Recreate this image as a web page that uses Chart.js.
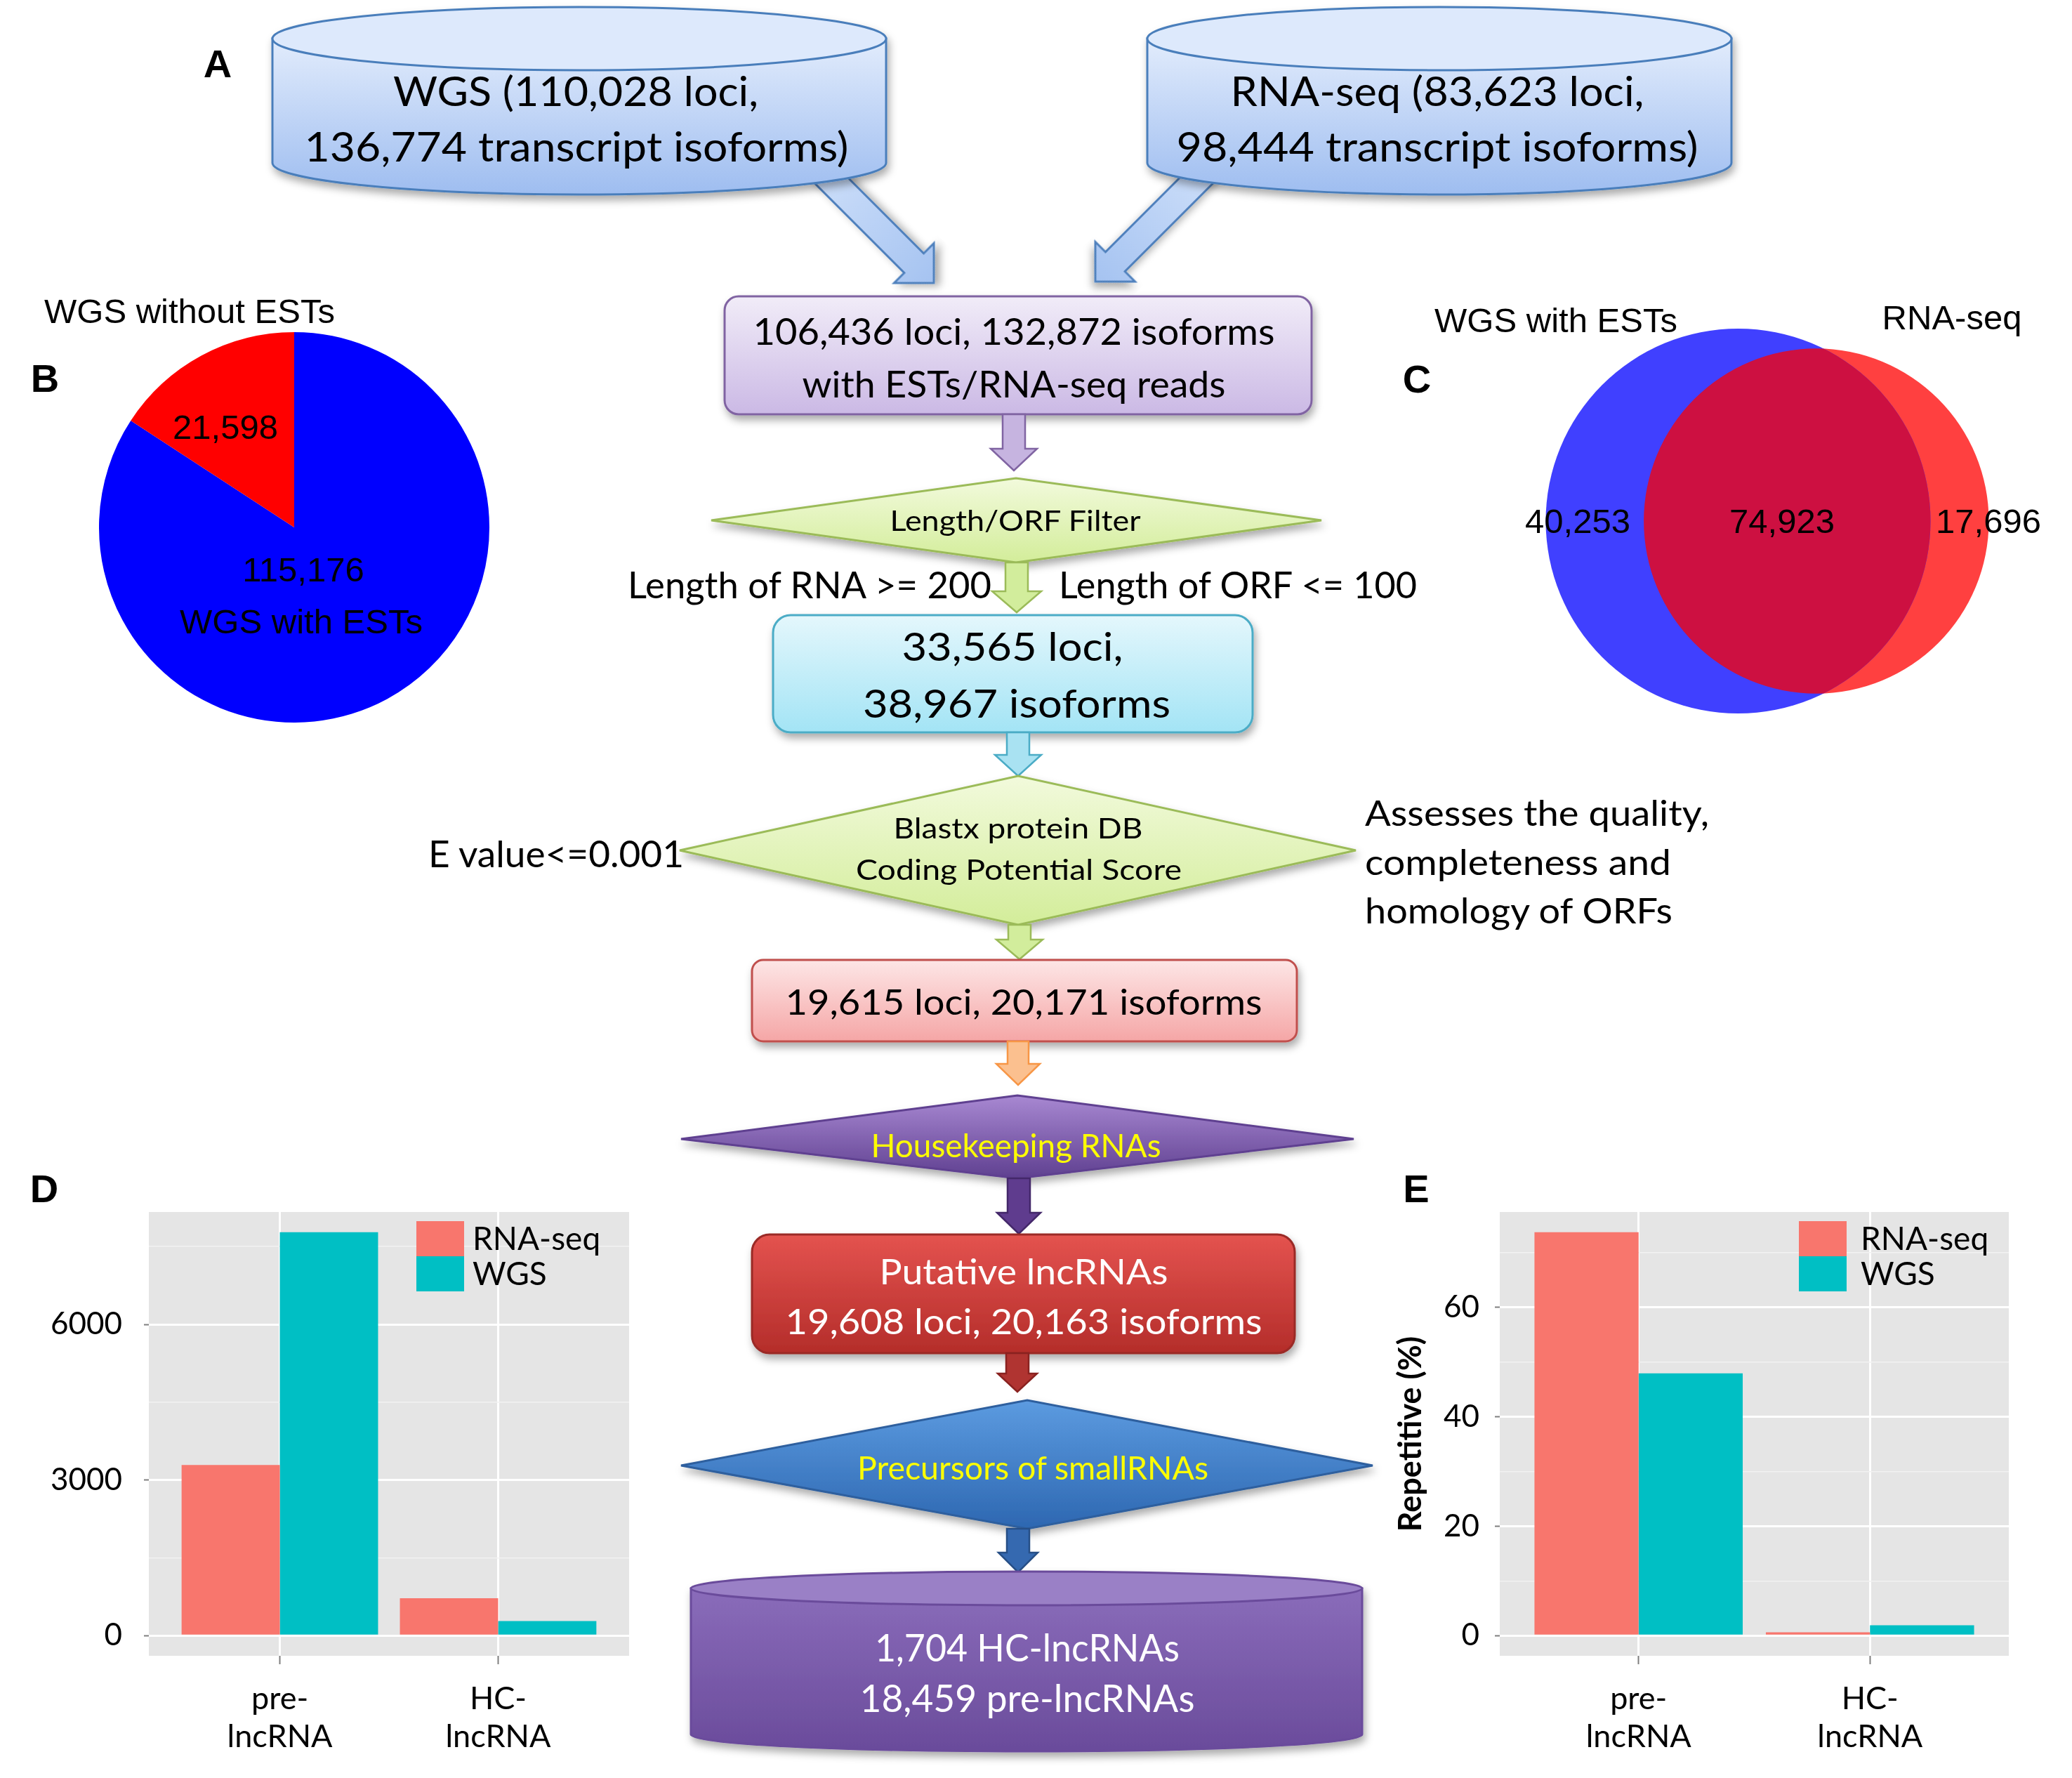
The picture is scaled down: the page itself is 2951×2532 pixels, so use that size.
<!DOCTYPE html>
<html>
<head>
<meta charset="utf-8">
<script src="https://cdn.jsdelivr.net/npm/chart.js@4.4.1/dist/chart.umd.min.js"></script>
<style>
  html, body { margin: 0; padding: 0; background: #fff; overflow: hidden; }
  #fig { position: relative; width: 2951px; height: 2532px; background: #fff; }
  #fig canvas { position: absolute; }
  #flow { position: absolute; left: 0; top: 0; z-index: 2; pointer-events: none; }
</style>
</head>
<body>
<div id="fig">
  <canvas id="pie" width="556" height="556" style="left:141px;top:473px;width:556px;height:556px"></canvas>
  <canvas id="venn" width="951" height="640" style="left:2000px;top:420px;width:951px;height:640px"></canvas>
  <canvas id="barD" width="950" height="832" style="left:0px;top:1700px;width:950px;height:832px"></canvas>
  <canvas id="barE" width="1001" height="832" style="left:1950px;top:1700px;width:1001px;height:832px"></canvas>
  <svg id="flow" width="2951" height="2532" xmlns="http://www.w3.org/2000/svg"></svg>
</div>
<script>
// ---- data ----
const pieLabels = ['WGS with ESTs', 'WGS without ESTs'];
const pieValues = [115176, 21598];
const pieColors = ['#0000ff', '#ff0000'];

const vennSets = ['WGS with ESTs', 'RNA-seq'];
const vennCounts = [40253, 74923, 17696];   // only WGS, both, only RNA-seq
const vennColors = ['#4040ff', '#ff4040', '#cd1041'];

const barCategories = [['pre-', 'lncRNA'], ['HC-', 'lncRNA']];
const seriesNames = ['RNA-seq', 'WGS'];
const barColors = ['#f8766d', '#00bfc4'];
const countRnaSeq = [3290, 720];
const countWgs = [7777, 281];
const countTicks = [0, 3000, 6000];
const repRnaSeq = [73.7, 0.6];
const repWgs = [47.9, 1.9];
const repTicks = [0, 20, 40, 60];

const fmt = n => n.toLocaleString('en-US');
const common = { responsive: false, animation: false, devicePixelRatio: 1, events: [] };

// ---- B: pie ----
new Chart(document.getElementById('pie'), {
  type: 'pie',
  data: { labels: pieLabels, datasets: [{ data: pieValues, backgroundColor: pieColors, borderWidth: 0 }] },
  options: { ...common, layout: { padding: 0 },
    plugins: { legend: { display: false }, tooltip: { enabled: false } } }
});

// ---- C: area proportional venn ----
const VENN_PX_PER_ROOT = 0.8074;
const sizeA = vennCounts[0] + vennCounts[1];
const sizeB = vennCounts[1] + vennCounts[2];
const r1 = VENN_PX_PER_ROOT * Math.sqrt(sizeA);
const r2 = VENN_PX_PER_ROOT * Math.sqrt(sizeB);
function lens(d, a, b) {
  if (d >= a + b) return 0;
  if (d <= Math.abs(a - b)) return Math.PI * Math.min(a, b) ** 2;
  const p = a * a * Math.acos((d * d + a * a - b * b) / (2 * d * a));
  const q = b * b * Math.acos((d * d + b * b - a * a) / (2 * d * b));
  const s = 0.5 * Math.sqrt((-d + a + b) * (d + a - b) * (d - a + b) * (d + a + b));
  return p + q - s;
}
const targetOverlap = Math.PI * VENN_PX_PER_ROOT ** 2 * vennCounts[1];
let dLo = Math.abs(r1 - r2), dHi = r1 + r2;
for (let i = 0; i < 80; i++) {
  const m = (dLo + dHi) / 2;
  if (lens(m, r1, r2) > targetOverlap) dLo = m; else dHi = m;
}
const dist = (dLo + dHi) / 2;
const vennMid = (dist + r2 - r1) / 2;

const vennOverlap = {
  id: 'vennOverlap',
  afterDatasetsDraw(chart) {
    const a = chart.getDatasetMeta(0).data[0];
    const b = chart.getDatasetMeta(1).data[0];
    const ctx = chart.ctx;
    ctx.save();
    ctx.beginPath(); ctx.arc(a.x, a.y, a.options.radius, 0, Math.PI * 2); ctx.clip();
    ctx.beginPath(); ctx.arc(b.x, b.y, b.options.radius, 0, Math.PI * 2);
    ctx.fillStyle = vennColors[2]; ctx.fill();
    ctx.restore();
  }
};
new Chart(document.getElementById('venn'), {
  type: 'bubble',
  data: { datasets: [
    { label: vennSets[0], data: [{ x: 0, y: 0, r: r1 }], backgroundColor: vennColors[0], borderWidth: 0, clip: false },
    { label: vennSets[1], data: [{ x: dist, y: 0, r: r2 }], backgroundColor: vennColors[1], borderWidth: 0, clip: false }
  ] },
  options: { ...common, layout: { padding: 0, autoPadding: false },
    plugins: { legend: { display: false }, tooltip: { enabled: false } },
    scales: {
      x: { display: false, min: vennMid - 517, max: vennMid + 434 },
      y: { display: false, min: -318, max: 322 }
    } },
  plugins: [vennOverlap]
});

// ---- D / E: ggplot style dodged bars ----
const panelBg = {
  id: 'panelBg',
  beforeDraw(chart) {
    const { ctx, chartArea: a } = chart;
    ctx.save();
    ctx.fillStyle = '#e5e5e5';
    ctx.fillRect(a.left, a.top, a.right - a.left, a.bottom - a.top);
    ctx.restore();
  }
};

function makeBars(id, valsA, valsB, majors, cfg) {
  const all = valsA.concat(valsB);
  const hi = Math.max(...all), lo = Math.min(0, ...all);
  const pad = (hi - lo) * 0.05;
  const step = majors[1] - majors[0];
  const tickVals = [];
  majors.forEach(m => { tickVals.push(m); if (m + step / 2 <= hi + pad) tickVals.push(m + step / 2); });
  const isMajor = v => majors.includes(v);
  const pts = vals => vals.map((v, i) => ({ x: i + 1, y: v }));
  new Chart(document.getElementById(id), {
    type: 'bar',
    data: { datasets: [
      { label: seriesNames[0], data: pts(valsA), backgroundColor: barColors[0] },
      { label: seriesNames[1], data: pts(valsB), backgroundColor: barColors[1] }
    ] },
    options: { ...common,
      datasets: { bar: { categoryPercentage: 0.9, barPercentage: 1 } },
      layout: { padding: { top: 26, right: cfg.right, left: 0, bottom: 0 } },
      plugins: { legend: { display: false }, tooltip: { enabled: false } },
      scales: {
        x: {
          type: 'linear', min: 0.4, max: barCategories.length + 0.6, offset: false,
          afterBuildTicks: s => { s.ticks = barCategories.map((c, i) => ({ value: i + 1 })); },
          afterFit: s => { s.height = 174; s.paddingLeft = 0; s.paddingRight = 0; },
          ticks: { autoSkip: false, maxRotation: 0, padding: 22, color: '#000',
                   font: { family: 'Lato', size: 45 }, callback: v => barCategories[v - 1] },
          grid: { offset: false, color: '#ffffff', lineWidth: 3, tickColor: '#7f7f7f', tickWidth: 2, tickLength: 12 },
          border: { display: false }
        },
        y: {
          min: lo - pad, max: hi + pad,
          afterBuildTicks: s => { s.ticks = tickVals.map(v => ({ value: v })); },
          afterFit: s => { s.width = cfg.axisWidth; s.paddingTop = 0; s.paddingBottom = 0; },
          ticks: { padding: cfg.labelPad, color: '#000', font: { family: 'Lato', size: 44 },
                   callback: v => isMajor(v) ? String(v) : '' },
          grid: {
            color: c => isMajor(c.tick.value) ? '#ffffff' : '#f2f2f2',
            lineWidth: c => isMajor(c.tick.value) ? 3 : 1.5,
            tickColor: c => isMajor(c.tick.value) ? '#7f7f7f' : 'rgba(0,0,0,0)',
            tickWidth: 2, tickLength: 7
          },
          border: { display: false },
          title: cfg.title
            ? { display: true, text: cfg.title, color: '#000', padding: { top: 32, bottom: 0 },
                font: { family: 'Lato', size: 45, weight: 'bold' } }
            : { display: false }
        }
      } },
    plugins: [panelBg]
  });
}
makeBars('barD', countRnaSeq, countWgs, countTicks, { right: 54, axisWidth: 212, labelPad: 31 });
makeBars('barE', repRnaSeq, repWgs, repTicks, { right: 90, axisWidth: 186, labelPad: 22, title: 'Repetitive (%)' });

// ---- flowchart and labels (svg) ----
const defs = [], parts = [];
function grad(id, c1, c2) {
  defs.push(`<linearGradient id="${id}" x1="0" y1="0" x2="0" y2="1"><stop offset="0" stop-color="${c1}"/><stop offset="1" stop-color="${c2}"/></linearGradient>`);
  return `url(#${id})`;
}
function esc(s) { return s.replace(/&/g, '&amp;').replace(/</g, '&lt;').replace(/>/g, '&gt;'); }
function txt(x, cy, s, size, len, o = {}) {
  const fam = o.family || 'Lato';
  const cap = o.cap || 0.36;
  const anchor = o.anchor || 'middle';
  const lenAttr = len ? ` textLength="${len}" lengthAdjust="spacingAndGlyphs"` : '';
  parts.push(`<text x="${x}" y="${(cy + cap * size).toFixed(1)}" font-family="${fam}" font-size="${size}" font-weight="${o.weight || 'normal'}" fill="${o.fill || '#000'}" text-anchor="${anchor}"${lenAttr}>${esc(s)}</text>`);
}
function cylinder(x0, x1, cyT, cyB, ry, body, top, stroke) {
  const rx = (x1 - x0) / 2, cx = (x0 + x1) / 2;
  parts.push(`<g filter="url(#sh)"><path d="M${x0},${cyT} L${x0},${cyB} A${rx},${ry} 0 0 0 ${x1},${cyB} L${x1},${cyT} Z" fill="${body}" stroke="${stroke}" stroke-width="3"/>` +
    `<ellipse cx="${cx}" cy="${cyT}" rx="${rx}" ry="${ry}" fill="${top}" stroke="${stroke}" stroke-width="3"/></g>`);
}
function box(x0, y0, x1, y1, r, fill, stroke) {
  parts.push(`<rect x="${x0}" y="${y0}" width="${x1 - x0}" height="${y1 - y0}" rx="${r}" fill="${fill}" stroke="${stroke}" stroke-width="3" filter="url(#sh)"/>`);
}
function diamond(x0, x1, yT, yM, yB, cx, fill, stroke) {
  parts.push(`<polygon points="${x0},${yM} ${cx},${yT} ${x1},${yM} ${cx},${yB}" fill="${fill}" stroke="${stroke}" stroke-width="3" filter="url(#sh)"/>`);
}
function downArrow(cx, y0, y1, sw, hw, hl, fill, stroke) {
  const yh = y1 - hl;
  parts.push(`<polygon points="${cx - sw / 2},${y0} ${cx + sw / 2},${y0} ${cx + sw / 2},${yh} ${cx + hw / 2},${yh} ${cx},${y1} ${cx - hw / 2},${yh} ${cx - sw / 2},${yh}" fill="${fill}" stroke="${stroke}" stroke-width="2.5"/>`);
}
// 45 degree block arrow, head wings end up vertical / horizontal
function diagArrow(tx, ty, rot, L, fill, stroke) {
  const sw = 39, hw = 80, hl = 40;
  parts.push(`<polygon filter="url(#sh)" transform="translate(${tx},${ty}) rotate(${rot})" points="${-sw / 2},${-L} ${sw / 2},${-L} ${sw / 2},${-hl} ${hw / 2},${-hl} 0,0 ${-hw / 2},${-hl} ${-sw / 2},${-hl}" fill="${fill}" stroke="${stroke}" stroke-width="3"/>`);
}

defs.push('<filter id="sh" x="-10%" y="-10%" width="125%" height="140%"><feDropShadow dx="3" dy="7" stdDeviation="6" flood-color="#000" flood-opacity="0.33"/></filter>');

const gCyl = grad('gCyl', '#e2ecfc', '#9ebdf0');
const gArr = grad('gArr', '#cfe0fa', '#a5c3f1');
diagArrow(1330, 403, -45, 240, gArr, '#4f81bd');
diagArrow(1560, 401, 45, 240, gArr, '#4f81bd');
cylinder(388, 1262, 55, 232, 45, gCyl, '#dde9fc', '#4a7ebb');
cylinder(1634, 2466, 55, 232, 45, gCyl, '#dde9fc', '#4a7ebb');
txt(820, 130, 'WGS (110,028 loci,', 58, 520);
txt(821, 209, '136,774 transcript isoforms)', 58, 775);
txt(2047, 130, 'RNA-seq (83,623 loci,', 58, 589);
txt(2047, 209, '98,444 transcript isoforms)', 58, 743);

box(1032, 422, 1868, 590, 20, grad('gPur', '#f1ecf8', '#cbb9e5'), '#8064a2');
txt(1444, 472, '106,436 loci, 132,872 isoforms', 52, 743);
txt(1444, 547, 'with ESTs/RNA-seq reads', 52, 603);
downArrow(1444, 590, 670, 32, 66, 31, '#c6b4e0', '#8064a2');

const gLime = grad('gLime', '#f2fadc', '#d3ed9a');
diamond(1013, 1882, 681, 741, 801, 1447, gLime, '#9bbb59');
txt(1446, 742, 'Length/ORF Filter', 40, 357);
downArrow(1448, 801, 872, 32, 70, 30, '#d2ed9c', '#9bbb59');
txt(1153, 833, 'Length of RNA >= 200', 52, 518);
txt(1763, 833, 'Length of ORF <= 100', 52, 510);

box(1101, 876, 1784, 1043, 25, grad('gCyan', '#e4f7fc', '#a3e4f5'), '#4bacc6');
txt(1442, 921, '33,565 loci,', 56, 315);
txt(1448, 1002, '38,967 isoforms', 56, 438);
downArrow(1450, 1043, 1105, 32, 66, 30, '#a9e2f2', '#4bacc6');

diamond(968, 1931, 1105, 1211, 1317, 1450, gLime, '#9bbb59');
txt(1450, 1180, 'Blastx protein DB', 40, 355);
txt(1451, 1239, 'Coding Potential Score', 40, 464);
txt(792, 1216, 'E value<=0.001', 52, 364);
txt(1944, 1158, 'Assesses the quality,', 50, 490, { anchor: 'start' });
txt(1944, 1228, 'completeness and', 50, 436, { anchor: 'start' });
txt(1944, 1297, 'homology of ORFs', 50, 438, { anchor: 'start' });
downArrow(1452, 1317, 1366, 32, 66, 28, '#d2ed9c', '#9bbb59');

box(1071, 1367, 1847, 1483, 16, grad('gPink', '#fde6e6', '#f5a6a6'), '#c0504d');
txt(1458, 1427, '19,615 loci, 20,171 isoforms', 50, 679);
downArrow(1450, 1483, 1545, 30, 62, 30, '#fbc08f', '#f79646');

diamond(970, 1928, 1560, 1622, 1678, 1449, grad('gHk', '#a888d2', '#5f4090'), '#5f4090');
txt(1447, 1631, 'Housekeeping RNAs', 46, 413, { fill: '#ffff00' });
downArrow(1451, 1678, 1757, 32, 62, 30, '#5f3c8e', '#44286a');

box(1071, 1758, 1844, 1927, 25, grad('gRed', '#e4534f', '#b42d2a'), '#9a2926');
txt(1458, 1811, 'Putative lncRNAs', 50, 411, { fill: '#ffffff' });
txt(1458, 1882, '19,608 loci, 20,163 isoforms', 50, 679, { fill: '#ffffff' });
downArrow(1449, 1927, 1982, 32, 56, 26, '#b03431', '#8a2220');

diamond(970, 1955, 1994, 2087, 2177, 1463, grad('gBlue', '#5c9be0', '#2d67b1'), '#2d5f9e');
txt(1471, 2090, 'Precursors of smallRNAs', 46, 500, { fill: '#ffff00' });
downArrow(1450, 2177, 2239, 32, 56, 28, '#3569b0', '#274f86');

cylinder(984, 1940, 2262, 2470, 24, grad('gCyl2', '#8a6cba', '#6a4b9b'), '#9a80c6', '#6a4b9b');
txt(1463, 2347, '1,704 HC-lncRNAs', 54, 434, { fill: '#ffffff' });
txt(1463, 2419, '18,459 pre-lncRNAs', 54, 477, { fill: '#ffffff' });

// panel letters
const bold = { family: 'Liberation Sans', weight: 'bold', cap: 0.358 };
txt(310, 90, 'A', 56, 0, bold);
txt(64, 538, 'B', 56, 0, bold);
txt(2018, 539, 'C', 56, 0, bold);
txt(63, 1692, 'D', 56, 0, bold);
txt(2017, 1692, 'E', 56, 0, bold);

// pie and venn labels
const ar = { family: 'Liberation Sans', cap: 0.358 };
txt(270, 442, pieLabels[1], 49, 0, ar);
txt(321, 607, fmt(pieValues[1]), 49, 0, ar);
txt(432, 810, fmt(pieValues[0]), 49, 0, ar);
txt(429, 884, pieLabels[0], 49, 0, ar);
txt(2216, 455, vennSets[0], 49, 0, ar);
txt(2780, 451, vennSets[1], 49, 0, ar);
txt(2247, 741, fmt(vennCounts[0]), 49, 0, ar);
txt(2538, 741, fmt(vennCounts[1]), 49, 0, ar);
txt(2832, 741, fmt(vennCounts[2]), 49, 0, ar);

// bar legends inside the panels
function legend(kx, ky, tx) {
  seriesNames.forEach((n, i) => {
    parts.push(`<rect x="${kx}" y="${ky + i * 50}" width="68" height="50" fill="${barColors[i]}"/>`);
    txt(tx, ky + i * 50 + 24, n, 46, 0, { anchor: 'start' });
  });
}
legend(593, 1739, 673);
legend(2562, 1739, 2650);

document.getElementById('flow').innerHTML = '<defs>' + defs.join('') + '</defs>' + parts.join('');
</script>
</body>
</html>
